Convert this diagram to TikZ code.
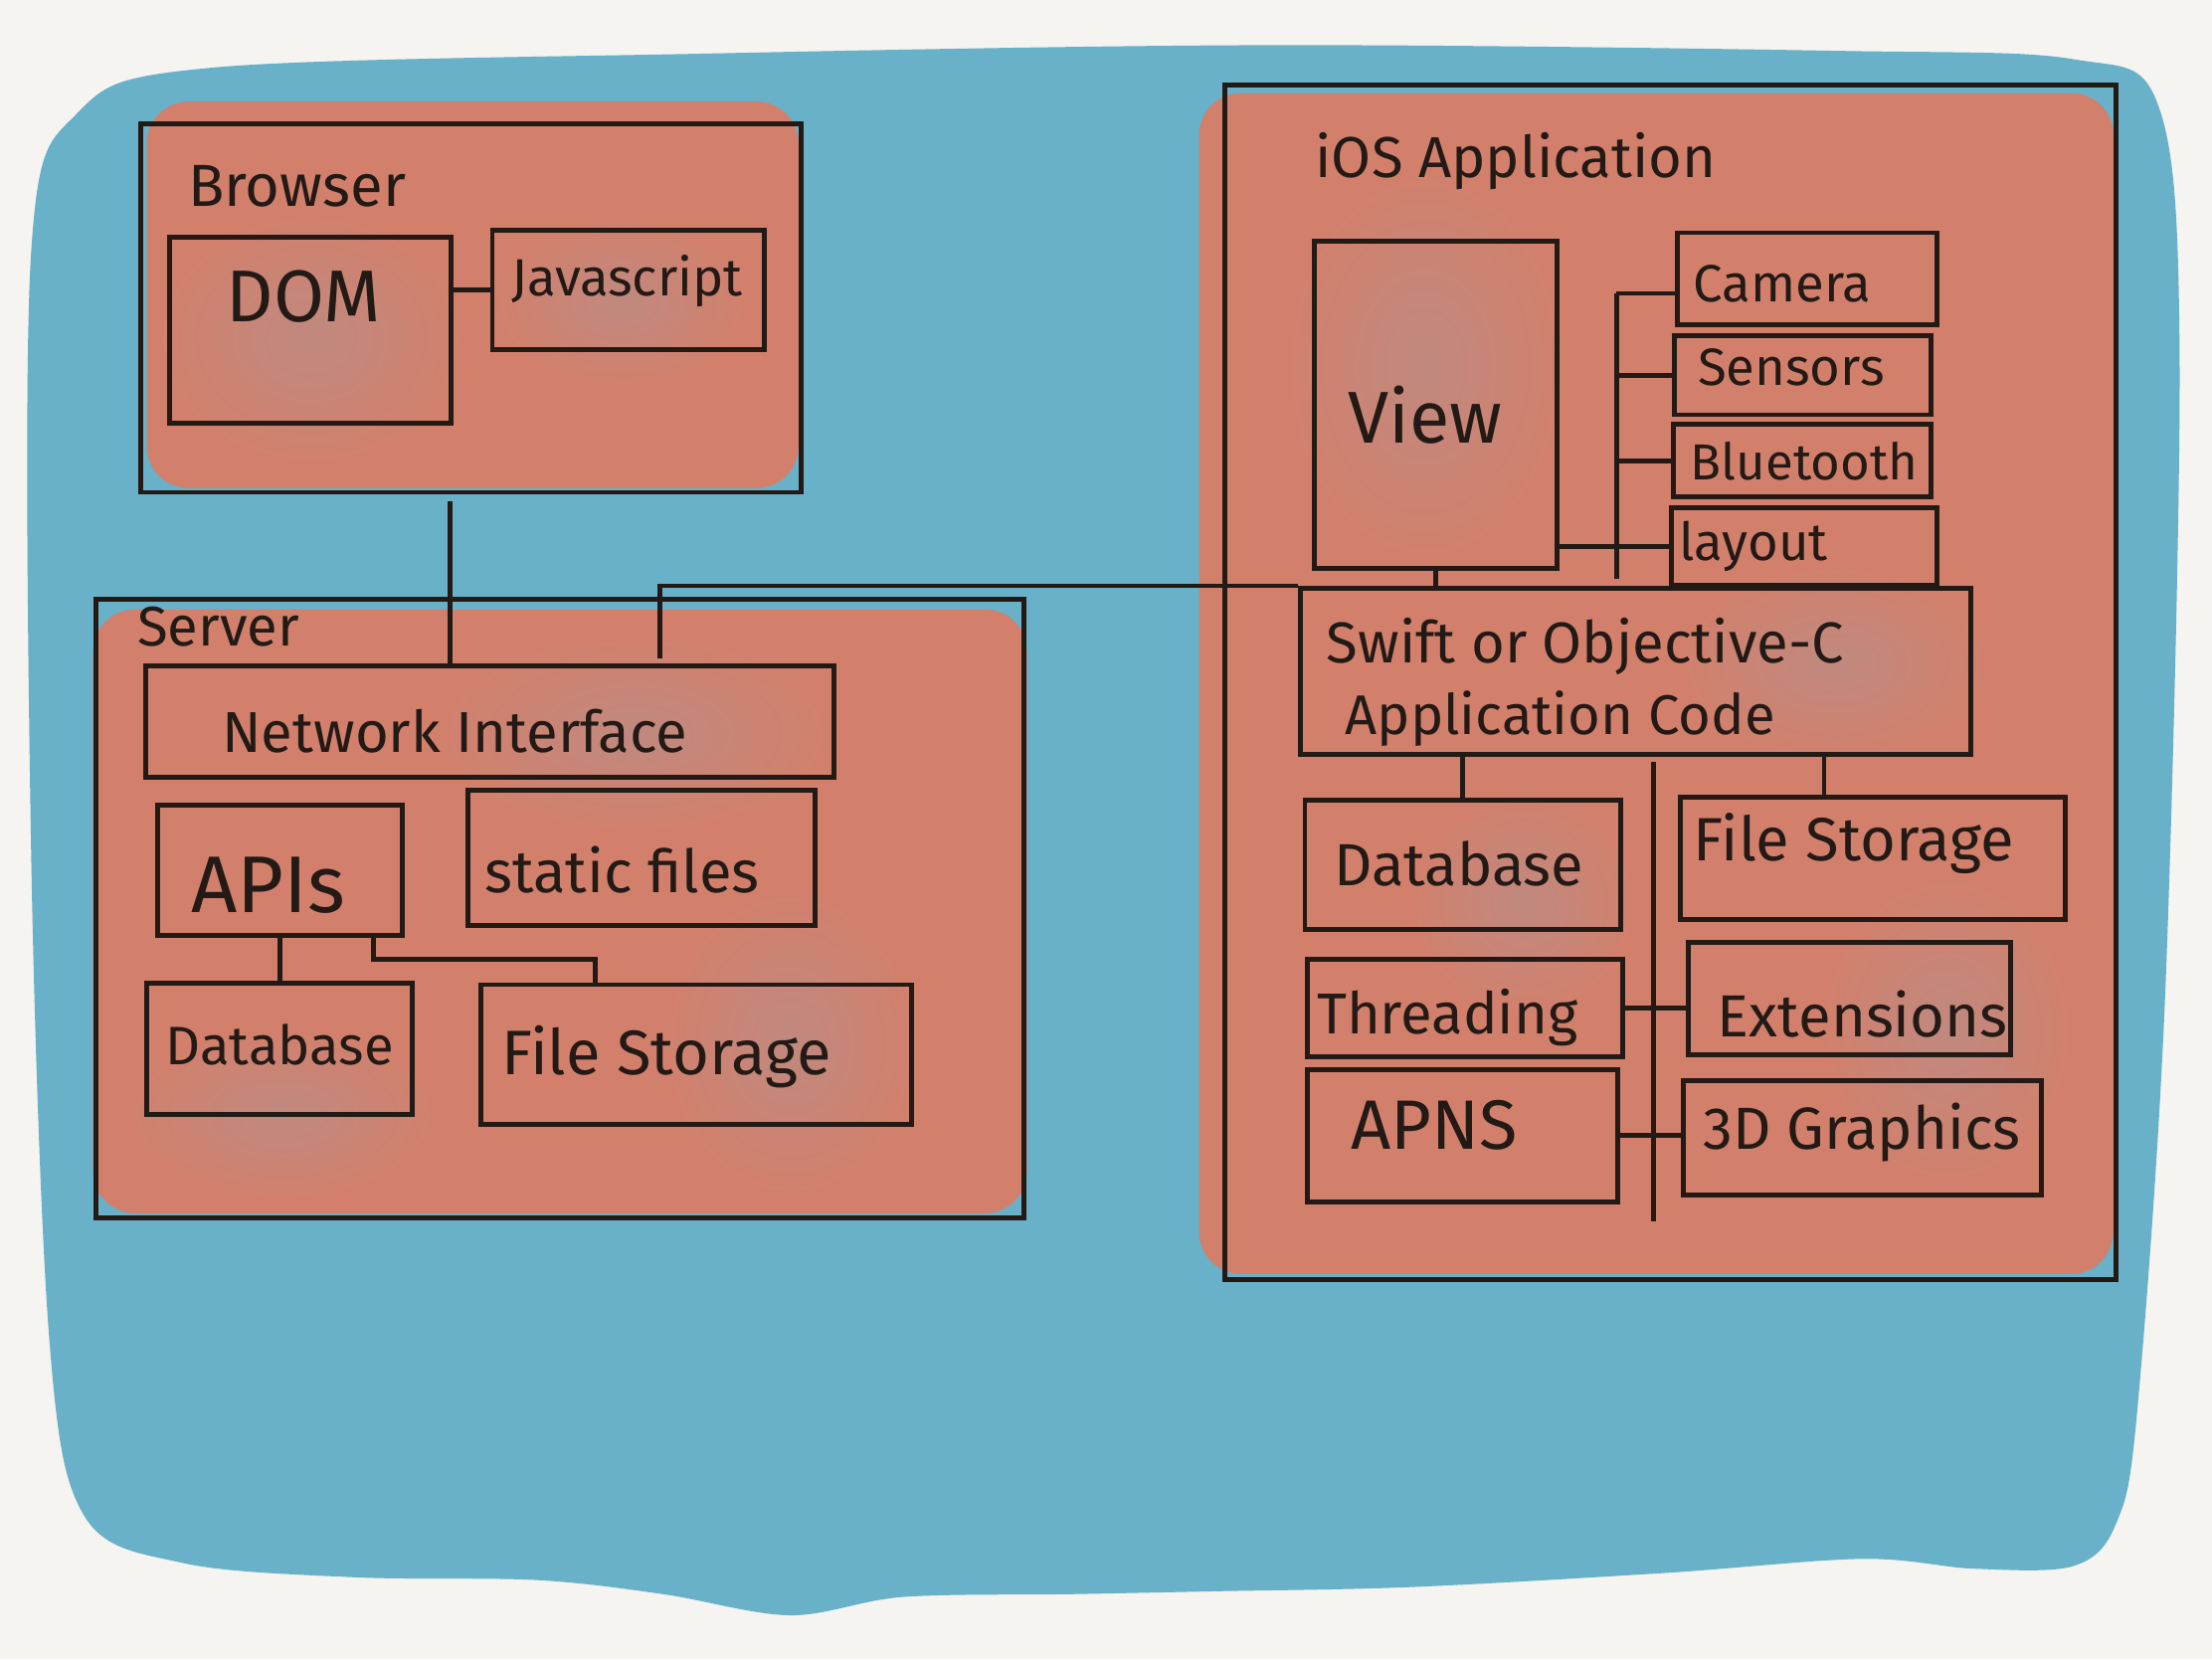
\documentclass[tikz,border=0pt]{standalone}
\usepackage{fontspec}
\setmainfont{Fira Sans}
\usetikzlibrary{positioning,fit,calc}

\definecolor{paper}{HTML}{F5F4F0}
\definecolor{sea}{HTML}{68B1C8}
\definecolor{brick}{HTML}{D2806C}
\definecolor{mottle}{HTML}{C0897F}
\definecolor{ink}{HTML}{231A16}

\begin{document}
\begin{tikzpicture}[
    x=0.014184cm, y=-0.014184cm,
    ink/.style={draw=ink, line width=1.4pt},
    box/.style={ink, inner sep=0pt, fit={#1}},
    hand/.style={inner sep=0pt, anchor=base west, text=ink, font=\fontsize{#1}{#1}\selectfont},
    wash/.style={fill=brick, rounded corners=12pt},
    blot/.style={inner color=mottle, outer color=brick}
]

% Paper and blue wash
\fill[paper] (0,0) rectangle (1568,1176);
\useasboundingbox (0,0) rectangle (1568,1176);
\fill[sea] plot[smooth cycle, tension=0.55] coordinates {
    (22,180) (55,80) (150,48) (500,38) (900,32) (1300,36) (1470,42) (1530,75)
    (1545,250) (1535,700) (1515,1000) (1500,1080) (1470,1110) (1400,1112) (1320,1105)
    (1180,1115) (1000,1125) (860,1128) (760,1130) (640,1132) (560,1145) (470,1130)
    (380,1120) (250,1118) (130,1108) (60,1075) (35,950) (22,600)};

% Red washes under the frames
\fill[wash] (104,72) rectangle (566,346);
\fill[wash] (66,432) rectangle (728,860);
\fill[wash] (850,66) rectangle (1498,903);

% Greyish blots in the wash
\shade[blot] (220,240) ellipse (110 and 90);
\shade[blot] (440,215) ellipse (90 and 60);
\shade[blot] (450,520) ellipse (140 and 70);
\shade[blot] (560,740) ellipse (90 and 110);
\shade[blot] (200,790) ellipse (110 and 60);
\shade[blot] (1010,260) ellipse (100 and 140);
\shade[blot] (1300,470) ellipse (110 and 70);
\shade[blot] (1080,640) ellipse (80 and 80);
\shade[blot] (1380,730) ellipse (90 and 110);

% Browser
\node[box={(100,88) (568,349)}] (browser) {};
\node[hand=17] (browserlbl) at (133,146) {Browser};
\node[box={(120,168) (320,300)}] (dom) {};
\node[hand=21] (domlbl) at (160,228) {DOM};
\node[box={(349,163) (542,248)}] (js) {};
\node[hand=15] (jslbl) at (362,210) {Javascript};

% Server
\node[box={(68,425) (726,863)}] (server) {};
\node[hand=16] (serverlbl) at (97,458) {Server};
\node[box={(103,472) (591,551)}] (netif) {};
\node[hand=16.5] (netiflbl) at (157,533) {Network Interface};
\node[box={(112,571) (285,663)}] (apis) {};
\node[hand=23] (apislbl) at (135,647) {APIs};
\node[box={(332,560) (578,656)}] (static) {};
\node[hand=17] (staticlbl) at (343,633) {static files};
\node[box={(104,697) (292,790)}] (sdb) {};
\node[hand=15.5] (sdblbl) at (117,755) {Database};
\node[box={(341,698) (646,797)}] (sfs) {};
\node[hand=18] (sfslbl) at (355,762) {File Storage};

% iOS application
\node[box={(868,60) (1500,907)}] (ios) {};
\node[hand=16.5] (ioslbl) at (932,126) {iOS Application};
\node[box={(932,171) (1104,403)}] (view) {};
\node[hand=21] (viewlbl) at (955,314) {View};
\node[box={(1189,165) (1373,230)}] (camera) {};
\node[hand=15] (cameralbl) at (1200,214) {Camera};
\node[box={(1187,238) (1369,294)}] (sensors) {};
\node[hand=15] (sensorslbl) at (1203,273) {Sensors};
\node[box={(1186,301) (1369,352)}] (bluetooth) {};
\node[hand=14.5] (bluetoothlbl) at (1198,340) {Bluetooth};
\node[box={(1185,360) (1373,415)}] (layout) {};
\node[hand=15] (layoutlbl) at (1190,397) {layout};
\node[box={(922,417) (1397,535)}] (swift) {};
\node[hand=16.5] (swiftlbl) at (940,470) {Swift or Objective-C};
\node[hand=16] (codelbl) at (953,521) {Application Code};
\node[box={(925,567) (1149,659)}] (idb) {};
\node[hand=17] (idblbl) at (945,628) {Database};
\node[box={(1191,565) (1464,652)}] (ifs) {};
\node[hand=17.5] (ifslbl) at (1200,610) {File Storage};
\node[box={(927,680) (1150,749)}] (threads) {};
\node[hand=16.5] (threadslbl) at (933,733) {Threading};
\node[box={(1197,668) (1425,748)}] (ext) {};
\node[hand=17] (extlbl) at (1217,735) {Extensions};
\node[box={(927,758) (1147,852)}] (apns) {};
\node[hand=20] (apnslbl) at (957,815) {APNS};
\node[box={(1193,766) (1447,847)}] (gfx) {};
\node[hand=17] (gfxlbl) at (1207,815) {3D Graphics};

% Bus and tap points
\coordinate (bup) at (319,355);
\coordinate (nup) at (468,467);
\coordinate (akink) at (265,663);
\coordinate (fkink) at (422,698);
\coordinate (bustop) at (1146,208);
\coordinate (busbot) at (1146,410);
\coordinate (lbustop) at (1172,540);
\coordinate (lbusbot) at (1172,866);
\coordinate (swr) at (1293,535);

% Connectors
\draw[ink] (js.west) -- (js.west -| dom.east);
\draw[ink] (bup) -- (bup |- netif.north);
\draw[ink] (nup) |- (swift.north west);
\draw[ink] (apis.south) -- (apis.south |- sdb.north);
\draw[ink] (akink) -- ++(0,17) -| (fkink);
\draw[ink] (view.south) -- (view.south |- swift.north);
\draw[ink] (bustop) -- (busbot);
\draw[ink] (camera.west |- bustop) -- (bustop);
\draw[ink] (sensors.west) -- (sensors.west -| bustop);
\draw[ink] (bluetooth.west) -- (bluetooth.west -| bustop);
\draw[ink] (layout.west) -- (layout.west -| view.east);
\draw[ink] (idb.north) -- (idb.north |- swift.south);
\draw[ink] (swr) -- (swr |- ifs.north);
\draw[ink] (lbustop) -- (lbusbot);
\draw[ink] (threads.east) -- (threads.east -| ext.west);
\draw[ink] (apns.east) -- (apns.east -| gfx.west);

\end{tikzpicture}
\end{document}
